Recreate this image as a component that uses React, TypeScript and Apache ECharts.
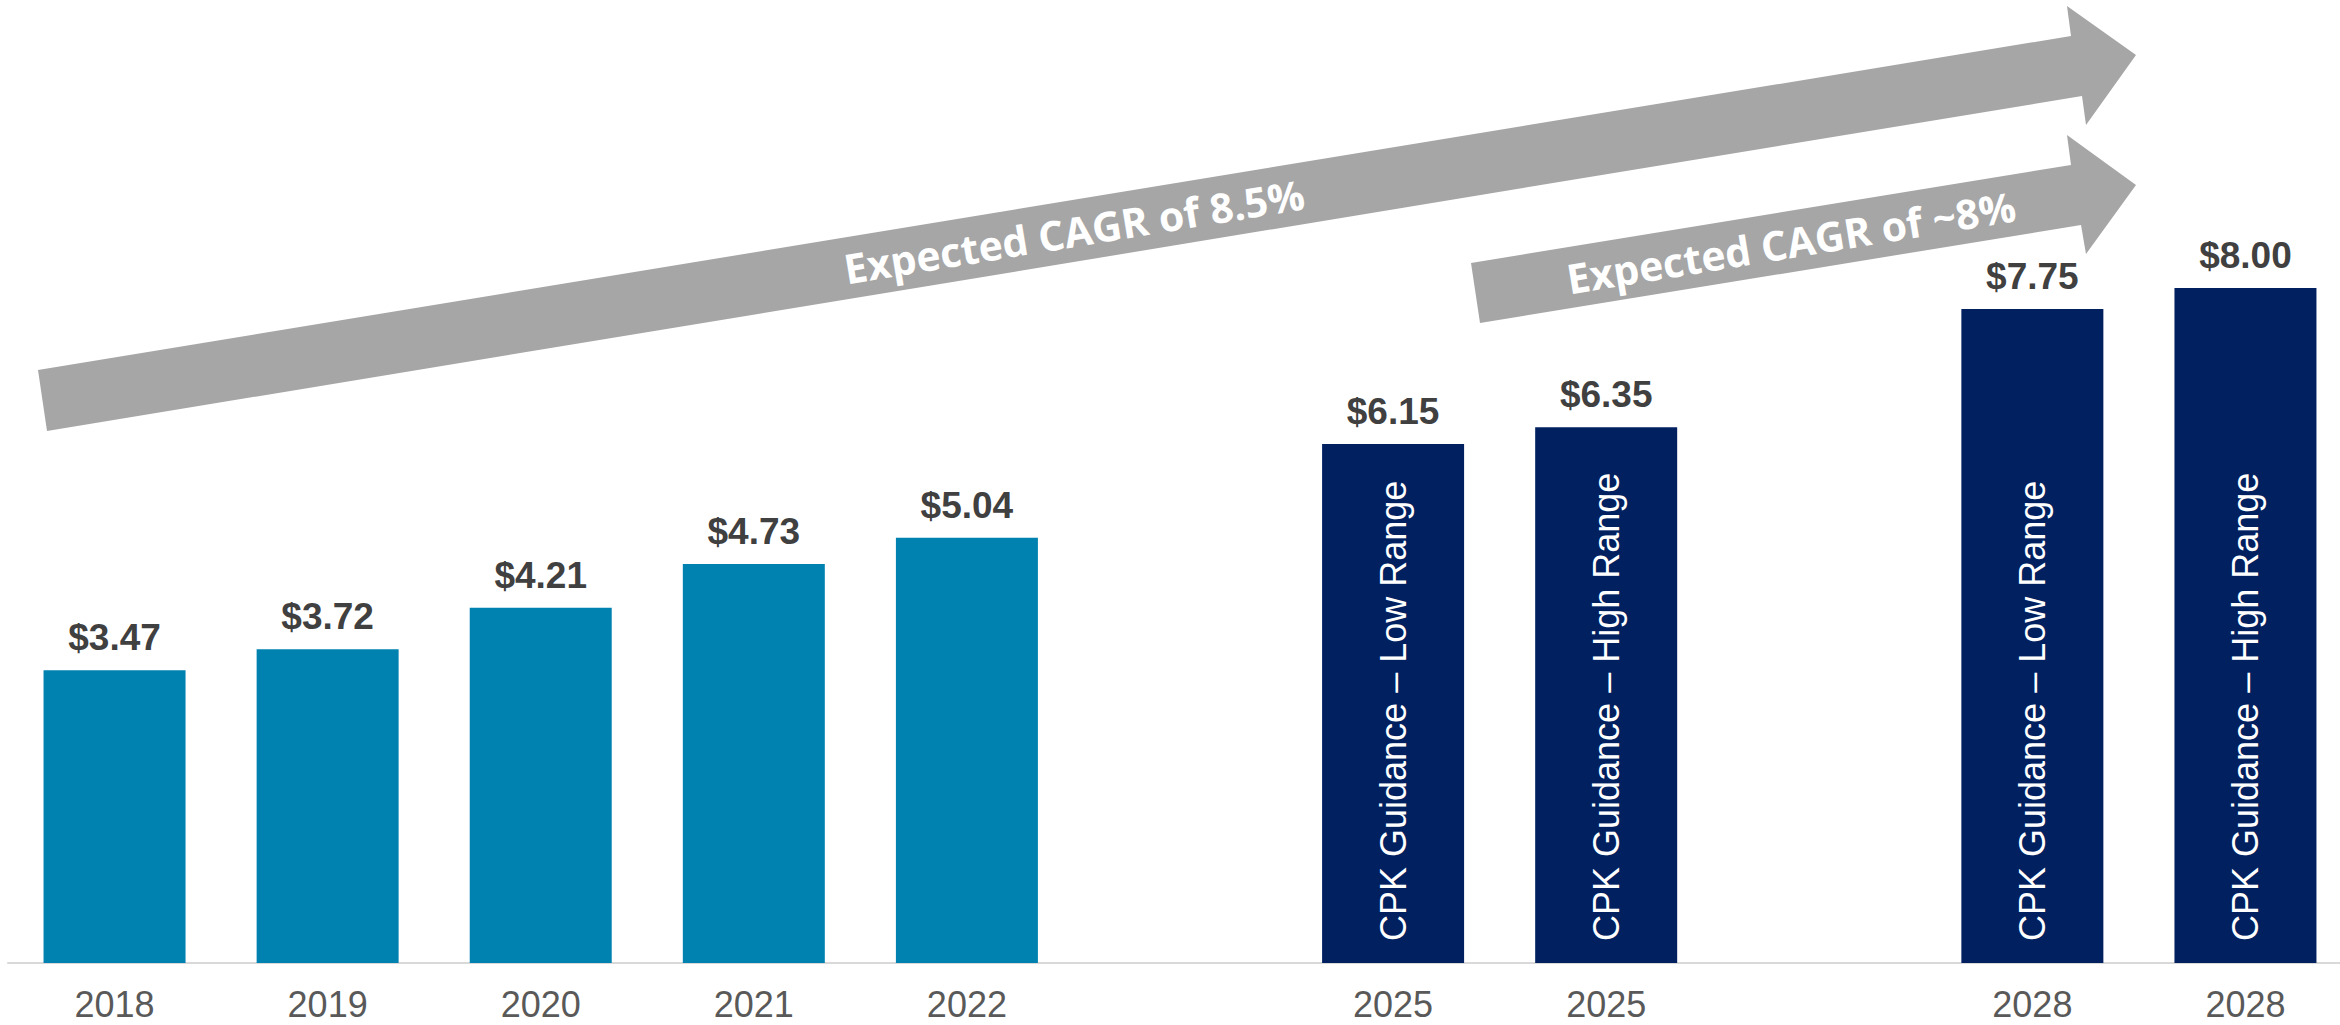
import React, { useEffect, useRef } from "react";
import * as echarts from "echarts";

// ---- Data ----
const CATEGORIES = ["2018", "2019", "2020", "2021", "2022", "", "2025", "2025", "", "2028", "2028"];
const EPS_VALUES: (number | null)[] = [3.47, 3.72, 4.21, 4.73, 5.04, null, 6.15, 6.35, null, 7.75, 8.0];
const INSIDE_LABELS = [
  "", "", "", "", "", "",
  "CPK Guidance – Low Range",
  "CPK Guidance – High Range",
  "",
  "CPK Guidance – Low Range",
  "CPK Guidance – High Range",
];
const IS_GUIDANCE = [false, false, false, false, false, false, true, true, false, true, true];
const ARROW_TEXTS = ["Expected CAGR of 8.5%", "Expected CAGR of ~8%"];

// ---- Styles ----
const TEAL = "#0082B1";
const NAVY = "#002060";
const ARROW_GREY = "#A6A6A6";
const FONT = "'Liberation Sans', Arial, sans-serif";
const ANGLE = Math.atan(334 / 2033);

export default function App() {
  const ref = useRef<HTMLDivElement>(null);

  useEffect(() => {
    if (!ref.current) return;
    const chart = echarts.init(ref.current, undefined, { renderer: "svg" });

    const mainData = EPS_VALUES.map((v, i) => ({
      value: v === null ? "-" : v,
      itemStyle: { color: IS_GUIDANCE[i] ? NAVY : TEAL },
    }));

    chart.setOption({
      animation: false,
      backgroundColor: "#ffffff",
      grid: { left: 8, right: 0, top: 119.25, bottom: 62, containLabel: false },
      xAxis: {
        type: "category",
        data: CATEGORIES,
        axisTick: { show: false },
        axisLine: { show: true, lineStyle: { color: "#D9D9D9", width: 2 } },
        axisLabel: {
          interval: 0,
          color: "#595959",
          fontSize: 36,
          lineHeight: 30,
          fontFamily: FONT,
          margin: 26,
        },
      },
      yAxis: { type: "value", min: 0, max: 10, show: false },
      series: [
        {
          type: "bar",
          name: "EPS",
          data: mainData,
          barWidth: 142,
          barGap: "-100%",
          z: 2,
          label: {
            show: true,
            position: "top",
            distance: 14,
            color: "#404040",
            fontSize: 37,
            fontWeight: "bold",
            fontFamily: FONT,
            formatter: (p: any) => "$" + Number(p.value).toFixed(2),
          },
        },
        {
          type: "bar",
          name: "Guidance label",
          data: EPS_VALUES.map((v, i) => (INSIDE_LABELS[i] && v !== null ? v : "-")),
          barWidth: 142,
          barGap: "-100%",
          silent: true,
          z: 3,
          itemStyle: { color: "rgba(0,0,0,0)" },
          label: {
            show: true,
            position: "insideBottom",
            rotate: 90,
            align: "left",
            verticalAlign: "middle",
            distance: 22,
            color: "#ffffff",
            fontSize: 36,
            fontFamily: FONT,
            formatter: (p: any) => INSIDE_LABELS[p.dataIndex],
          },
        },
      ],
      graphic: [
        {
          type: "polygon",
          z: 1,
          shape: {
            points: [
              [38, 370], [2071, 36], [2067, 6], [2136, 55], [2086, 125], [2082, 96], [47, 431],
            ],
          },
          style: { fill: ARROW_GREY },
        },
        {
          type: "polygon",
          z: 1,
          shape: {
            points: [
              [1471, 263], [2071, 165], [2067, 135], [2136, 185], [2086, 254], [2081, 225], [1480, 323],
            ],
          },
          style: { fill: ARROW_GREY },
        },
        {
          type: "text",
          z: 5,
          x: 1074,
          y: 231,
          rotation: ANGLE,
          style: {
            text: ARROW_TEXTS[0],
            fill: "#ffffff",
            fontSize: 41,
            fontWeight: "bold",
            fontFamily: "'Open Sans', sans-serif",
            align: "center",
            verticalAlign: "middle",
          },
        },
        {
          type: "text",
          z: 5,
          x: 1791,
          y: 242,
          rotation: ANGLE,
          style: {
            text: ARROW_TEXTS[1],
            fill: "#ffffff",
            fontSize: 41,
            fontWeight: "bold",
            fontFamily: "'Open Sans', sans-serif",
            align: "center",
            verticalAlign: "middle",
          },
        },
      ],
    });

    return () => chart.dispose();
  }, []);

  return (
    <div style={{ position: "fixed", left: 0, top: 0, width: 2340, height: 1025, overflow: "hidden" }}>
      <div ref={ref} style={{ width: 2352, height: 1025 }} />
    </div>
  );
}
